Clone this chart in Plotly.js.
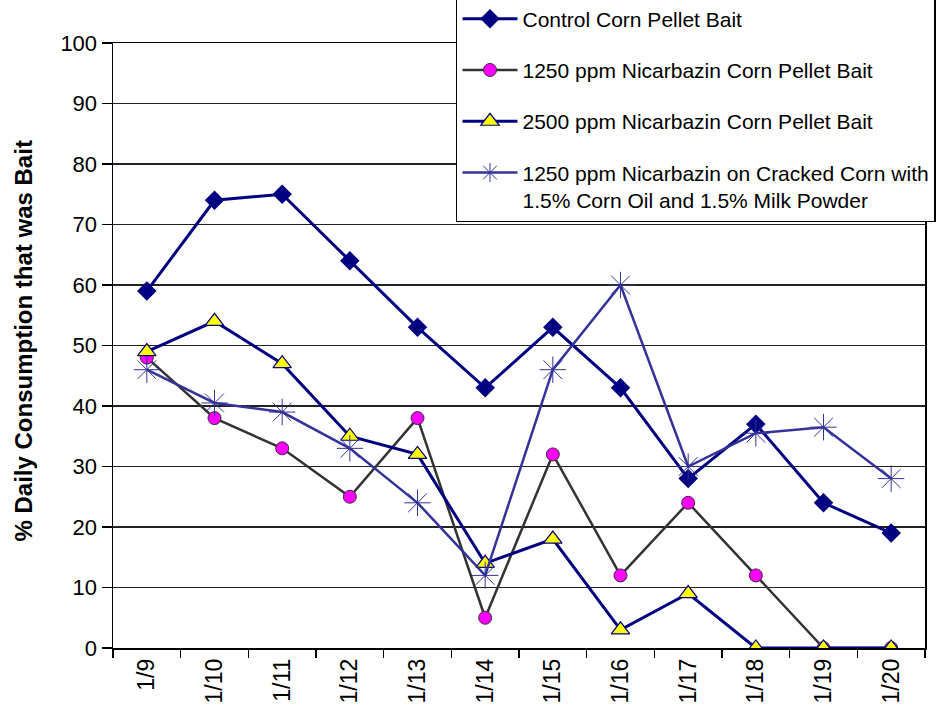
<!DOCTYPE html>
<html><head><meta charset="utf-8">
<script src="https://cdn.plot.ly/plotly-3.0.1.min.js"></script>
<style>html,body{margin:0;padding:0;background:#fff}#chart{width:951px;height:717px}</style>
</head><body><div id="chart"></div>
<script>
const dates = ["1/9","1/10","1/11","1/12","1/13","1/14","1/15","1/16","1/17","1/18","1/19","1/20"];
const controlPellet = [59,74,75,64,53,43,53,43,28,37,24,19];
const pellet1250 = [48,38,33,25,38,5,32,12,24,12,0,0];
const pellet2500 = [49,54,47,35,32,14,18,3,9,0,0,0];
const crackedCorn1250 = [46,40.5,39,33,24,12,46,60,30,35.5,36.5,28];
const seriesNames = [
  "Control Corn Pellet Bait",
  "1250 ppm Nicarbazin Corn Pellet Bait",
  "2500 ppm Nicarbazin Corn Pellet Bait",
  "1250 ppm Nicarbazin on Cracked Corn with<br>1.5% Corn Oil and 1.5% Milk Powder"
];
const yTitle = "% Daily Consumption that was Bait";

const FONT = "Liberation Sans, Arial, sans-serif";

const traces = [
  {x: dates, y: controlPellet, name: seriesNames[0], legendgroup: "a", mode: "lines+markers",
   line: {color: "#000080", width: 3}, marker: {symbol: "diamond", size: 15, color: "#000080"}},
  {x: dates, y: pellet1250, name: seriesNames[1], legendgroup: "b", mode: "lines+markers",
   line: {color: "#333333", width: 2.5}, marker: {symbol: "circle", size: 13, color: "#FF00FF", line: {color: "#333333", width: 1}}},
  {x: dates, y: pellet2500, name: seriesNames[2], legendgroup: "c", mode: "lines+markers",
   line: {color: "#000080", width: 3}, marker: {symbol: "triangle-up", size: 16, color: "#FFFF00", line: {color: "#000080", width: 1.2}}},
  {x: dates, y: crackedCorn1250, name: seriesNames[3], legendgroup: "d", mode: "lines+markers",
   line: {color: "#333399", width: 2.5}, marker: {symbol: "asterisk-open", size: 22, color: "#333399", line: {color: "#333399", width: 1}}}
];

const layout = {
  width: 951, height: 717,
  margin: {l: 113, r: 26, t: 43, b: 69, autoexpand: false},
  paper_bgcolor: "#fff", plot_bgcolor: "#fff",
  font: {family: FONT, size: 22, color: "#000"},
  showlegend: true,
  legend: {x: 0.4224, y: 1.076, xanchor: "left", yanchor: "top",
    bgcolor: "#fff", bordercolor: "#000", borderwidth: 1.5,
    font: {family: FONT, size: 21, color: "#000"},
    tracegroupgap: 21, valign: "top", itemwidth: 55},
  xaxis: {type: "category", range: [-0.5, 11.5], tickson: "boundaries", ticks: "outside", ticklen: 8, tickwidth: 1.5, tickcolor: "#000",
    showline: true, linecolor: "#000", linewidth: 1.5, mirror: true, showgrid: false, tickangle: -90,
    tickfont: {size: 23, family: FONT}, zeroline: false, automargin: false},
  yaxis: {range: [0, 100], dtick: 10, ticks: "outside", ticklen: 10, tickwidth: 1.5, tickcolor: "#000",
    showline: true, linecolor: "#000", linewidth: 1.5, mirror: true, automargin: false,
    showgrid: true, gridcolor: "#222", gridwidth: 1.5, zeroline: false, tickfont: {size: 22, family: FONT}},
  annotations: [{text: "<b>" + yTitle + "</b>", xref: "paper", yref: "paper",
    x: (23 - 113) / 812, y: (648 - 341.5) / 605, xanchor: "center", yanchor: "middle",
    textangle: -90, showarrow: false, font: {size: 24, family: FONT, color: "#000"}}]
};

Plotly.newPlot("chart", traces, layout, {displayModeBar: false, staticPlot: true});
</script></body></html>
